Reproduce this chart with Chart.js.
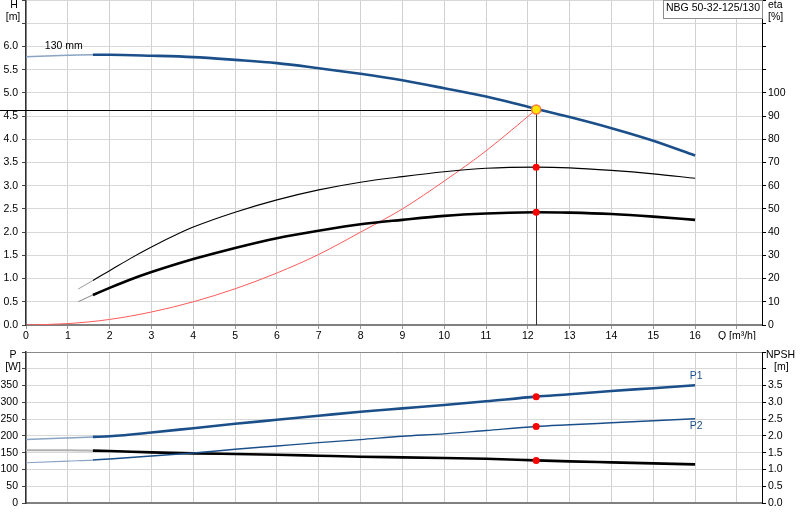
<!DOCTYPE html>
<html><head><meta charset="utf-8">
<script src="https://cdn.jsdelivr.net/npm/chart.js@4.4.1/dist/chart.umd.min.js"></script>
<style>
html,body{margin:0;padding:0;background:#fff;width:800px;height:520px;overflow:hidden;}
#top{position:absolute;left:0;top:0;width:800px;height:340px;}
#bot{position:absolute;left:0;top:340px;width:800px;height:180px;}
</style></head><body>
<div id="top"><canvas id="c1"></canvas></div>
<div id="bot"><canvas id="c2"></canvas></div>
<script>
// ---- tick values ----
const qTicks = [0,1,2,3,4,5,6,7,8,9,10,11,12,13,14,15,16,17];
const hTicks = [0,0.5,1,1.5,2,2.5,3,3.5,4,4.5,5,5.5,6,6.5,7];
const etaTicks = [0,10,20,30,40,50,60,70,80,90,100,110,120,130,140];
const pTicks = [0,50,100,150,200,250,300,350,400,450];
const npshTicks = [0,0.5,1,1.5,2,2.5,3,3.5,4,4.5];

// ---- pump curve H(Q) ----
const qH   = [0,1,1.6,2,3,4,5,6,7,8,9,10,11,12,13,14,15,16];
const hVal = [5.78,5.81,5.82,5.82,5.80,5.77,5.71,5.64,5.53,5.41,5.27,5.10,4.92,4.70,4.48,4.24,3.97,3.65];

// ---- efficiency curves ----
const qEta      = [1.25,1.6,2,2.5,3,3.7,4,5,6,7,8,9,10,11,12.2,13,14,15,16];
const etaUpper  = [15.5,19.2,23.4,28.7,33.6,39.8,42.2,48.6,53.9,58.2,61.5,63.9,66.0,67.5,68.0,67.7,66.6,65.1,63.2];
const etaLower  = [10.0,12.9,16.0,19.6,22.8,26.8,28.4,33.2,37.4,40.6,43.4,45.3,47.0,48.0,48.6,48.4,47.8,46.7,45.3];

// ---- system curve ----
const qSys = [0,1,2,3,4,5,6,7,8,9,10,11,12.2];
const hSys = [0,0.03,0.12,0.28,0.5,0.78,1.12,1.52,2.0,2.5,3.1,3.75,4.64];

// ---- power / NPSH ----
const qP   = [0,1,1.6,2,3,4,5,6,7,8,9,10,11,12.2,13,14,15,16];
const p1   = [189,194,197,199,210,223,236,248,260,272,282,292,303,317,324,334,342,351];
const p2   = [120,125,128,131,140,149,160,170,180,189,199,206,216,228,233,239,245,251];
const npsh = [1.57,1.57,1.56,1.55,1.51,1.48,1.46,1.44,1.41,1.38,1.36,1.34,1.32,1.27,1.24,1.21,1.18,1.15];

// ---- duty point ----
const dutyQ = 12.2, dutyH = 4.64;
const dutyEta = [68.0, 48.6];
const dutyP1 = 317, dutyP2 = 228, dutyNPSH = 1.27;

const pumpName = 'NBG 50-32-125/130';
const impeller = '130 mm';

const zip = (xs, ys) => xs.map((x,i)=>({x, y: ys[i]}));
const FONT = '"Liberation Sans", Arial, sans-serif';
Chart.defaults.font.family = FONT;
Chart.defaults.font.size = 10.5;
Chart.defaults.color = '#000';
Chart.defaults.animation = false;

const BLUE = '#1b4f8a', BLUE_L = '#8aa4c4';
const seg = (light, lw) => ({
  borderColor: c => c.p1.parsed.x <= 1.6 ? light : undefined,
  borderWidth: c => c.p1.parsed.x <= 1.6 ? lw : undefined
});
const lineDs = (data, color, width, axis, extra) => Object.assign({
  data, borderColor: color, borderWidth: width, pointRadius: 0, yAxisID: axis,
  cubicInterpolationMode: 'monotone', fill: false, order: 5
}, extra || {});
const dotDs = (data, axis, bg, border, r, bw) => ({
  data, showLine: false, yAxisID: axis, pointRadius: r, pointBackgroundColor: bg,
  pointBorderColor: border, pointBorderWidth: bw, order: 0
});
const setTicks = arr => s => { s.ticks = arr.map(v => ({value: v})); };
const fitW = w => s => { s.width = w; s.paddingTop = 0; s.paddingBottom = 0; };
const fitH = h => s => { s.height = h; s.paddingLeft = 0; s.paddingRight = 0; };

// ---------- top chart ----------
const topPlugin = {
  id: 'topdeco',
  beforeDatasetsDraw(chart) {
    const {ctx, scales:{x, yH}, chartArea} = chart;
    const px = x.getPixelForValue(dutyQ), py = yH.getPixelForValue(dutyH);
    ctx.save();
    ctx.lineWidth = 1;
    ctx.strokeStyle = '#000';
    ctx.beginPath(); ctx.moveTo(0, Math.round(py)+0.5); ctx.lineTo(px, Math.round(py)+0.5); ctx.stroke();
    ctx.strokeStyle = '#333';
    ctx.beginPath(); ctx.moveTo(Math.round(px)+0.5, py); ctx.lineTo(Math.round(px)+0.5, chartArea.bottom); ctx.stroke();
    ctx.restore();
  },
  afterDraw(chart) {
    const {ctx, scales:{x, yH}, chartArea} = chart;
    ctx.save();
    ctx.font = '10.5px ' + FONT;
    ctx.fillStyle = '#000';
    ctx.textBaseline = 'middle';
    ctx.textAlign = 'center';
    ctx.fillText('H', 14, 5);
    ctx.fillText('[m]', 13, 17);
    ctx.textAlign = 'left';
    ctx.fillText('eta', chartArea.right + 6, 5);
    ctx.fillText('[%]', chartArea.right + 6, 17);
    ctx.fillText(impeller, x.getPixelForValue(0.45), yH.getPixelForValue(6.0));
    // name box
    const bx = chartArea.right - 99, by = 0, bw = 100, bh = 19;
    ctx.fillStyle = '#fff';
    ctx.fillRect(bx, by, bw, bh);
    ctx.strokeStyle = '#8c8c8c';
    ctx.lineWidth = 1;
    ctx.strokeRect(bx + 0.5, by + 0.5, bw - 1, bh - 1);
    ctx.fillStyle = '#000';
    ctx.textAlign = 'center';
    ctx.fillText(pumpName, bx + bw/2, 8);
    ctx.restore();
  }
};

new Chart(document.getElementById('c1'), {
  type: 'line',
  data: { datasets: [
    dotDs([{x: dutyQ, y: dutyH}], 'yH', '#ffe600', '#ff7a3a', 4.5, 1.5),
    dotDs([{x: dutyQ, y: dutyEta[0]}, {x: dutyQ, y: dutyEta[1]}], 'yEta', '#ff0000', '#ff0000', 3.5, 0),
    lineDs(zip(qH, hVal), BLUE, 2.6, 'yH', {segment: seg(BLUE_L, 1.5)}),
    lineDs(zip(qEta, etaUpper), '#000', 1.1, 'yEta', {segment: seg('#999', 1)}),
    lineDs(zip(qEta, etaLower), '#000', 2.6, 'yEta', {segment: seg('#999', 1.2)}),
    lineDs(zip(qSys, hSys), '#ff5a5a', 1, 'yH', {order: 6})
  ]},
  options: {
    responsive: true, maintainAspectRatio: false, animation: false,
    layout: { padding: 0, autoPadding: false },
    plugins: { legend: {display: false}, tooltip: {enabled: false} },
    scales: {
      x: {
        type: 'linear', min: 0, max: 17.6,
        afterBuildTicks: setTicks(qTicks), afterFit: fitH(15),
        ticks: { autoSkip: false, maxRotation: 0, padding: 1,
          callback: v => v === 17 ? 'Q [m³/h]' : String(v) },
        grid: { color: '#d0d0d0', tickLength: 4, tickColor: '#999', lineWidth: 1 },
        border: { color: '#808080', width: 2 }
      },
      yH: {
        type: 'linear', position: 'left', min: 0, max: 7,
        afterBuildTicks: setTicks(hTicks), afterFit: fitW(26),
        ticks: { padding: 4, callback: v => v <= 6 ? v.toFixed(1) : '' },
        grid: { color: '#d8d8d8', tickLength: 4, tickColor: '#444', lineWidth: 1 },
        border: { color: '#333', width: 1.5 }
      },
      yEta: {
        type: 'linear', position: 'right', min: 0, max: 140,
        afterBuildTicks: setTicks(etaTicks), afterFit: fitW(38),
        ticks: { padding: 2, callback: v => v <= 100 ? String(v) : '' },
        grid: { drawOnChartArea: false, tickLength: 4, tickColor: '#000' },
        border: { color: '#000', width: 1 }
      }
    }
  },
  plugins: [topPlugin]
});

// ---------- bottom chart ----------
const botPlugin = {
  id: 'botdeco',
  afterDraw(chart) {
    const {ctx, scales:{x, yP}, chartArea} = chart;
    ctx.save();
    ctx.font = '10.5px ' + FONT;
    ctx.fillStyle = '#000';
    ctx.textBaseline = 'middle';
    ctx.textAlign = 'center';
    ctx.fillText('P', 13, chartArea.top + 3);
    ctx.fillText('[W]', 13, chartArea.top + 15);
    ctx.textAlign = 'left';
    ctx.fillText('NPSH', chartArea.right + 4, chartArea.top + 3);
    ctx.fillText('[m]', chartArea.right + 12, chartArea.top + 15);
    ctx.fillStyle = BLUE;
    ctx.textAlign = 'center';
    const xe = x.getPixelForValue(qP[qP.length-1]);
    ctx.fillText('P1', xe + 1, yP.getPixelForValue(p1[p1.length-1]) - 9);
    ctx.fillText('P2', xe + 1, yP.getPixelForValue(p2[p2.length-1]) + 7);
    ctx.restore();
  }
};

new Chart(document.getElementById('c2'), {
  type: 'line',
  data: { datasets: [
    dotDs([{x: dutyQ, y: dutyP1}, {x: dutyQ, y: dutyP2}], 'yP', '#ff0000', '#ff0000', 3.5, 0),
    dotDs([{x: dutyQ, y: dutyNPSH}], 'yN', '#ff0000', '#ff0000', 3.5, 0),
    lineDs(zip(qP, p1), BLUE, 2.6, 'yP', {segment: seg(BLUE_L, 1.5)}),
    lineDs(zip(qP, p2), BLUE, 1.4, 'yP', {segment: seg(BLUE_L, 1.2)}),
    lineDs(zip(qP, npsh), '#000', 2.6, 'yN', {segment: seg('#b0b0b0', 2)})
  ]},
  options: {
    responsive: true, maintainAspectRatio: false, animation: false,
    layout: { padding: { top: 12, left: 0, right: 0, bottom: 0 }, autoPadding: false },
    plugins: { legend: {display: false}, tooltip: {enabled: false} },
    scales: {
      x: {
        type: 'linear', min: 0, max: 17.6,
        afterBuildTicks: setTicks(qTicks), afterFit: fitH(17),
        ticks: { display: false },
        grid: { color: '#d0d0d0', drawTicks: false, lineWidth: 1 },
        border: { color: '#808080', width: 2 }
      },
      yP: {
        type: 'linear', position: 'left', min: 0, max: 450,
        afterBuildTicks: setTicks(pTicks), afterFit: fitW(26),
        ticks: { padding: 4, callback: v => v <= 350 ? String(v) : '' },
        grid: { color: c => c.tick && c.tick.value === 450 ? '#888' : '#d8d8d8',
                tickLength: 4, tickColor: '#444', lineWidth: 1 },
        border: { color: '#333', width: 1.5 }
      },
      yN: {
        type: 'linear', position: 'right', min: 0, max: 4.5,
        afterBuildTicks: setTicks(npshTicks), afterFit: fitW(38),
        ticks: { padding: 2, callback: v => v <= 3.5 ? v.toFixed(1) : '' },
        grid: { drawOnChartArea: false, tickLength: 4, tickColor: '#000' },
        border: { color: '#000', width: 1 }
      }
    }
  },
  plugins: [botPlugin]
});
</script>
</body></html>
